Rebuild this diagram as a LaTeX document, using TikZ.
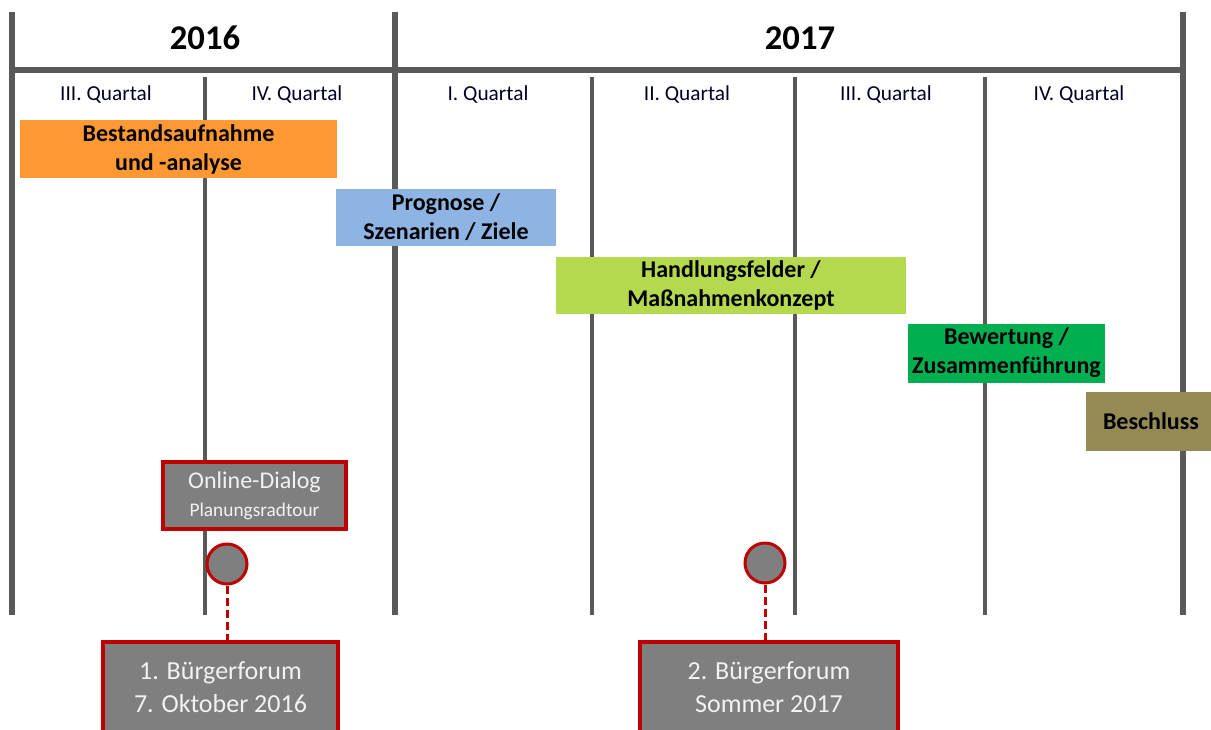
\documentclass[tikz,border=0pt]{standalone}
\usepackage{fontspec}
\setmainfont{Carlito}
\usepackage{xcolor}
\usepackage{tikz}
\usetikzlibrary{positioning, shadows}
\tikzset{>=latex}

\definecolor{framegray}{HTML}{595959}
\definecolor{boxgray}{HTML}{7F7F7F}
\definecolor{evred}{HTML}{C00000}
\definecolor{boxtext}{HTML}{F2F2F2}
\definecolor{phorange}{HTML}{FF9933}
\definecolor{phblue}{HTML}{8EB4E3}
\definecolor{phlime}{HTML}{B4D84E}
\definecolor{phgreen}{HTML}{00B050}
\definecolor{pholive}{HTML}{948A54}

\begin{document}
\begin{tikzpicture}[x=0.75pt, y=-0.75pt]
    % Define node styles
    \tikzstyle{frame} = [draw=framegray, line width=4.5pt]
    \tikzstyle{sep} = [draw=framegray, line width=3pt]
    \tikzstyle{year} = [font=\fontsize{26}{30}\selectfont\bfseries]
    \tikzstyle{qlabel} = [font=\fontsize{16}{19}\selectfont, text=black!85!blue]
    \tikzstyle{phase} = [rectangle, inner sep=0pt, align=center, font=\fontsize{18}{21.75}\selectfont\bfseries]
    \tikzstyle{event} = [rectangle, draw=evred, line width=2.4pt, fill=boxgray, text=boxtext, align=center, inner sep=0pt,
        drop shadow={opacity=0.35, shadow xshift=1.5pt, shadow yshift=-1.5pt}]
    \tikzstyle{milestone} = [circle, draw=evred, line width=2.25pt, fill=boxgray, minimum size=30pt, inner sep=0pt]
    \tikzstyle{forumlink} = [draw=evred, line width=2.25pt, dash pattern=on 6pt off 3pt]

    \useasboundingbox (0,0) rectangle (1211,729);
    \clip (0,0) rectangle (1211,729);

    % Year frame
    \foreach \x in {12,395,1183}
        \draw[frame] (\x,12) -- (\x,615);
    \draw[frame] (12,70) -- (1183,70);

    % Quarter separators
    \foreach \x in {205,592,795,985}
        \draw[sep] (\x,77) -- (\x,615);

    % Years and quarters
    \node[year] (y2016) at (205,38) {2016};
    \node[year] (y2017) at (800,38) {2017};
    \foreach \x/\q [count=\i] in {106/III, 297/IV, 488/I, 687/II, 886/III, 1079/IV}
        \node[qlabel] (q\i) at (\x,95) {\q. Quartal};

    % Project phases
    \node[phase, fill=phorange, minimum width=237.75pt, minimum height=43.5pt] (bestand) at (178.5,149) {Bestandsaufnahme\\und -analyse};
    \node[phase, fill=phblue, minimum width=165pt, minimum height=42.75pt] (prognose) at (446,217) {Prognose /\\Szenarien / Ziele};
    \node[phase, fill=phlime, minimum width=262.5pt, minimum height=42.75pt] (handlung) at (731,285) {Handlungsfelder /\\Maßnahmenkonzept};
    \node[phase, fill=phgreen, minimum width=147.75pt, minimum height=44.25pt] (bewertung) at (1006.5,353) {Bewertung /\\Zusammenführung};
    \node[phase, fill=pholive, minimum width=97.5pt, minimum height=44.25pt] (beschluss) at (1151,421.5) {Beschluss};

    % Participation
    \node[event, font=\fontsize{18}{21}\selectfont, minimum width=137.25pt, minimum height=50.25pt] (online) at (254.5,495.5)
        {Online-Dialog\\{\fontsize{14.5}{17}\selectfont Planungsradtour}};

    \node[milestone] (ms1) at (227,564) {};
    \node[milestone] (ms2) at (765,563) {};

    \node[event, font=\fontsize{19.5}{24.75}\selectfont, minimum width=176.25pt, minimum height=68.25pt] (forum1) at (220.5,687.5) {1. Bürgerforum\\7. Oktober 2016};
    \node[event, font=\fontsize{19.5}{24.75}\selectfont, minimum width=193.5pt, minimum height=68.25pt] (forum2) at (769,687.5) {2. Bürgerforum\\Sommer 2017};

    \draw[forumlink] (ms1.south) -- (ms1.south |- forum1.north);
    \draw[forumlink] (ms2.south) -- (ms2.south |- forum2.north);

\end{tikzpicture}
\end{document}
